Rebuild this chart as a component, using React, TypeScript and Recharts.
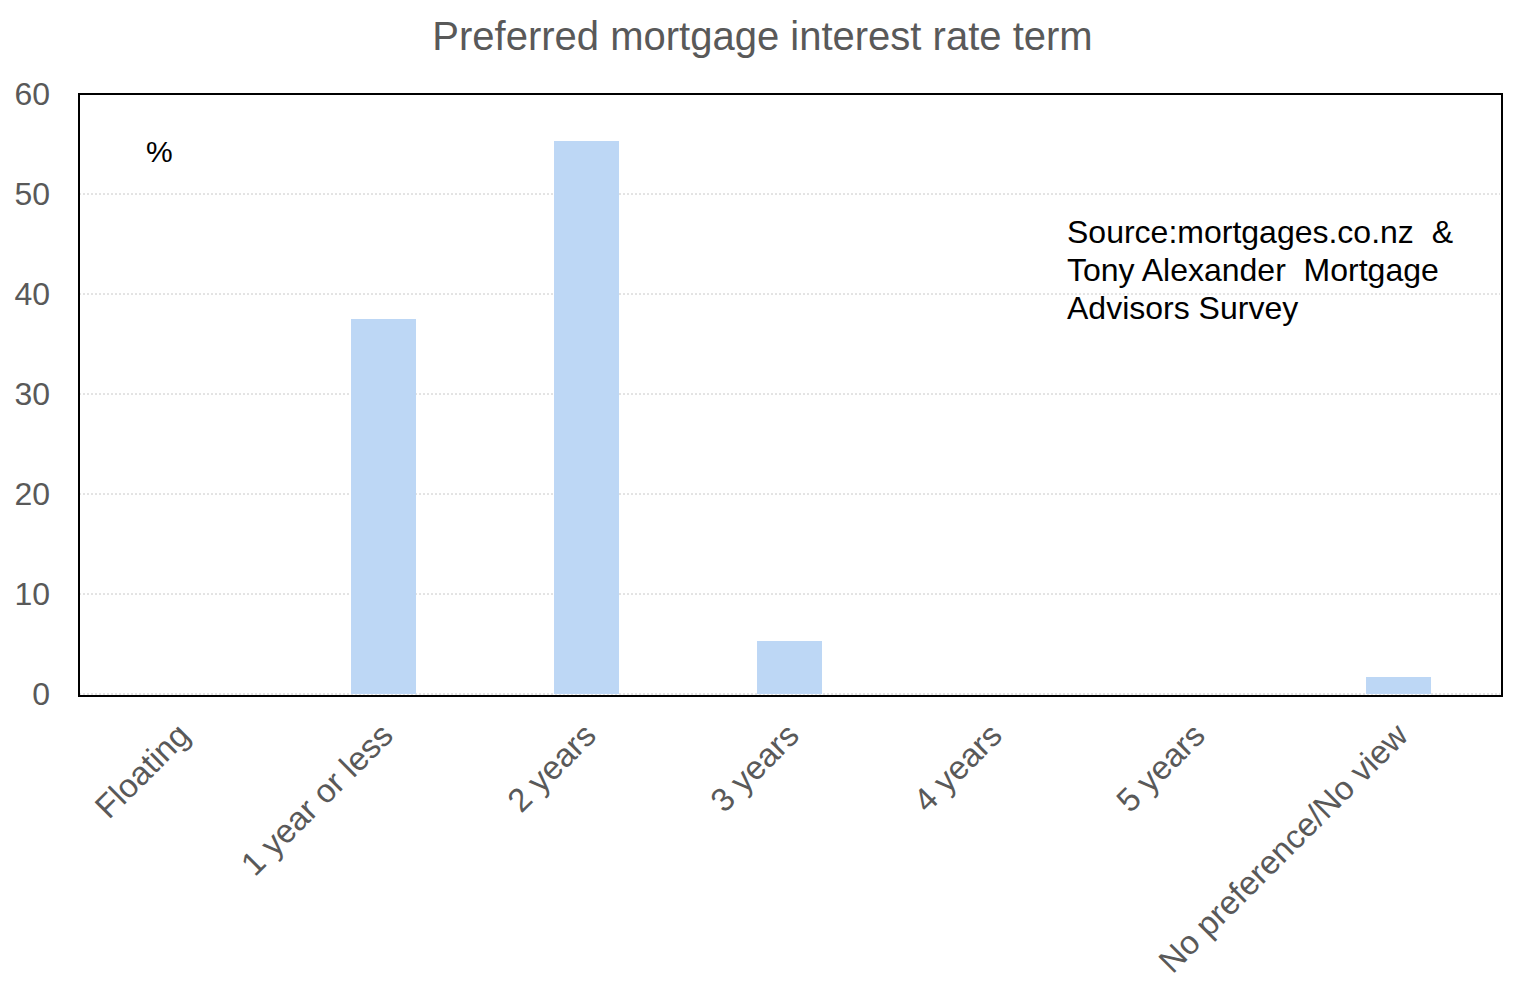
import React from "react"
import { BarChart, Bar, CartesianGrid, XAxis, YAxis } from "recharts"

const categories = ["Floating", "1 year or less", "2 years", "3 years", "4 years", "5 years", "No preference/No view"]
const shares = [0, 37.5, 55.3, 5.3, 0, 0, 1.7]
const yTicks = [0, 10, 20, 30, 40, 50, 60]

const data = categories.map((name, i) => ({ name, share: shares[i] }))

const font = "'Liberation Sans', Arial, sans-serif"

const AngledTick = ({ x, y, payload }: any) => (
    <g transform={`translate(${x},${y})`}>
        <text
            x={0}
            y={0}
            dx={-17}
            dy={33}
            textAnchor="end"
            transform="rotate(-45)"
            fill="#595959"
            fontSize={33}
            fontFamily={font}
        >
            {payload.value}
        </text>
    </g>
)

const App = () => {
    return (
        <div style={{ position: "absolute", left: 0, top: 0, width: 1525, height: 995, background: "#fff", fontFamily: font }}>
            <div style={{ position: "absolute", left: 0, top: 14, width: 1525, textAlign: "center", fontSize: 40, color: "#595959" }}>
                Preferred mortgage interest rate term
            </div>
            <BarChart
                width={1525}
                height={995}
                data={data}
                margin={{ top: 94, right: 25, left: 9, bottom: 0 }}
                barCategoryGap="34%"
            >
                <CartesianGrid vertical={false} stroke="#c8c8c8" strokeDasharray="2 2" />
                <XAxis
                    dataKey="name"
                    interval={0}
                    height={301}
                    tick={<AngledTick />}
                    tickLine={false}
                    axisLine={false}
                />
                <YAxis
                    domain={[0, 60]}
                    ticks={yTicks}
                    width={70}
                    tickSize={0}
                    tickMargin={29}
                    tickLine={false}
                    axisLine={false}
                    tick={{ fill: "#595959", fontSize: 32, fontFamily: font }}
                />
                <Bar dataKey="share" fill="#bdd7f5" isAnimationActive={false} />
            </BarChart>
            <div style={{ position: "absolute", left: 78, top: 93, width: 1421, height: 600, border: "2px solid #000", pointerEvents: "none" }} />
            <div style={{ position: "absolute", left: 146, top: 135, fontSize: 30, color: "#000" }}>%</div>
            <div style={{ position: "absolute", left: 1067, top: 213, fontSize: 32, lineHeight: "38px", color: "#000", whiteSpace: "pre" }}>
                {"Source:mortgages.co.nz  &\nTony Alexander  Mortgage\nAdvisors Survey"}
            </div>
        </div>
    )
}

export default App
